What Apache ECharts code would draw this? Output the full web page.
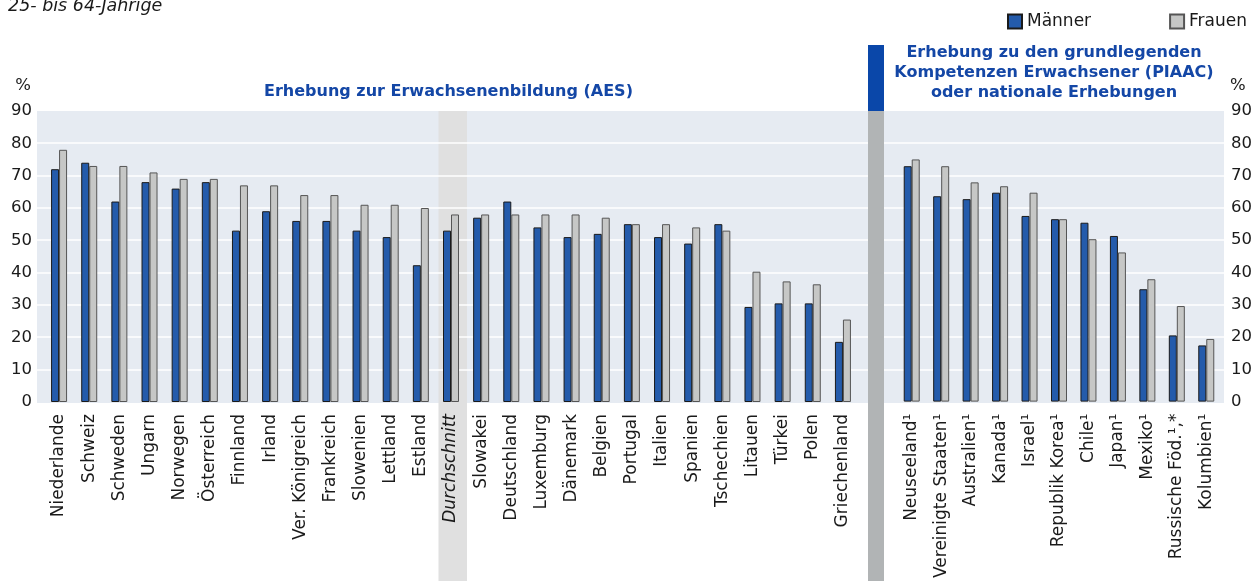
<!DOCTYPE html>
<html>
<head>
<meta charset="utf-8">
<script src="https://cdn.jsdelivr.net/npm/echarts@6/dist/echarts.min.js"></script>
<style>
html,body{margin:0;padding:0;background:#fff;}
#chart{width:1256px;height:581px;}
</style>
</head>
<body>
<div id="chart"></div>
<script>
// ---- Data ----
const categoriesAES = ['Niederlande','Schweiz','Schweden','Ungarn','Norwegen','Österreich','Finnland','Irland','Ver. Königreich','Frankreich','Slowenien','Lettland','Estland','Durchschnitt','Slowakei','Deutschland','Luxemburg','Dänemark','Belgien','Portugal','Italien','Spanien','Tschechien','Litauen','Türkei','Polen','Griechenland'];
const maennerAES = [72,74,62,68,66,68,53,59,56,56,53,51,42.3,53,57,62,54,51,52,55,51,49,55,29.4,30.5,30.5,18.6];
const frauenAES  = [78,73,73,71,69,69,67,67,64,64,61,61,60,58,58,58,58,58,57,55,55,54,53,40.3,37.3,36.4,25.5];

const categoriesPIAAC = ['Neuseeland¹','Vereinigte Staaten¹','Australien¹','Kanada¹','Israel¹','Republik Korea¹','Chile¹','Japan¹','Mexiko¹','Russische Föd.¹,*','Kolumbien¹'];
const maennerPIAAC = [72.9,63.6,62.7,64.7,57.5,56.5,55.4,51.3,34.8,20.5,17.4];
const frauenPIAAC  = [75,72.9,67.9,66.7,64.7,56.5,50.3,46.2,37.9,29.6,19.4];

const yTicks = [0,10,20,30,40,50,60,70,80,90];

const seriesNames = ['Männer','Frauen'];
const titleAES = 'Erhebung zur Erwachsenenbildung (AES)';
const titlePIAAC = 'Erhebung zu den grundlegenden\nKompetenzen Erwachsener (PIAAC)\noder nationale Erhebungen';
const subtitle = '25- bis 64-Jährige';
const highlightCategory = 'Durchschnitt';

// ---- Style / layout ----
const FONT = 'DejaVu Sans';
const W = 1256, H = 581;
const PLOT_TOP = 111, PLOT_BOTTOM = 402;
const BG0 = {left:37, right:868};
const BG1 = {left:884, right:1224};
const G0 = {left:44, right:858};
const G1 = {left:897, right:1221};
const BLUE = '#245bab', GRAY = '#c6c7c6', BG = '#e6ebf2', TITLE_BLUE = '#1447a6';
const TXT = '#1a1a1a';

const chart = echarts.init(document.getElementById('chart'), null, {renderer:'canvas'});

const xLabel = {
  rotate: 90, fontFamily: FONT, fontSize: 17, color: TXT, margin: 12, interval: 0,
  formatter: v => v === highlightCategory ? '{i|' + v + '}' : v,
  rich: { i: { fontStyle: 'italic', fontFamily: FONT, fontSize: 17, color: TXT } }
};
const yCommon = {
  type: 'value', min: yTicks[0], max: yTicks[yTicks.length-1], interval: yTicks[1]-yTicks[0],
  axisLine:{show:false}, axisTick:{show:false}, splitLine:{show:false}
};

const barBase = (name, data, xi, color, border) => ({
  name, type:'bar', xAxisIndex:xi, yAxisIndex:xi, data,
  barWidth: 8, barGap: '0%',
  itemStyle:{color, borderColor:border, borderWidth:1},
  emphasis:{disabled:true}, z:3
});

const option = {
  animation:false,
  backgroundColor:'#ffffff',
  textStyle:{fontFamily:FONT},
  legend:{
    left: 1002, top: 8, itemWidth:14, itemHeight:14, itemGap: 78,
    data: seriesNames,
    textStyle:{fontFamily:FONT, fontSize:17, color:TXT},
    icon:'rect'
  },
  grid:[
    {left:G0.left, right:W-G0.right, top:PLOT_TOP, bottom:H-PLOT_BOTTOM},
    {left:G1.left, right:W-G1.right, top:PLOT_TOP, bottom:H-PLOT_BOTTOM}
  ],
  xAxis:[
    {type:'category', gridIndex:0, data:categoriesAES, axisLine:{show:false}, axisTick:{show:false}, axisLabel:xLabel},
    {type:'category', gridIndex:1, data:categoriesPIAAC, axisLine:{show:false}, axisTick:{show:false}, axisLabel:xLabel}
  ],
  yAxis:[
    Object.assign({gridIndex:0, position:'left', axisLabel:{fontFamily:FONT, fontSize:16.5, color:TXT, margin:G0.left-32}}, yCommon),
    Object.assign({gridIndex:1, position:'right', axisLabel:{fontFamily:FONT, fontSize:16.5, color:TXT, margin:1231-G1.right}}, yCommon)
  ],
  series:[
    barBase(seriesNames[0], maennerAES, 0, BLUE, '#1a1a1a'),
    barBase(seriesNames[1], frauenAES, 0, GRAY, '#555555'),
    barBase(seriesNames[0], maennerPIAAC, 1, BLUE, '#1a1a1a'),
    barBase(seriesNames[1], frauenPIAAC, 1, GRAY, '#555555')
  ]
};
chart.setOption(option);

const cx = chart.convertToPixel({xAxisIndex:0}, highlightCategory);
const graphics = [
  {type:'rect', z:-10, silent:true, shape:{x:BG0.left, y:PLOT_TOP, width:BG0.right-BG0.left, height:PLOT_BOTTOM-PLOT_TOP+1}, style:{fill:BG}},
  {type:'rect', z:-10, silent:true, shape:{x:BG1.left, y:PLOT_TOP, width:BG1.right-BG1.left, height:PLOT_BOTTOM-PLOT_TOP+1}, style:{fill:BG}},
  {type:'rect', z:-9, silent:true, shape:{x:cx-12.5, y:PLOT_TOP, width:28.5, height:H-PLOT_TOP}, style:{fill:'#e0e0e0'}},
  {type:'rect', z:5, silent:true, shape:{x:BG0.right, y:45, width:BG1.left-BG0.right, height:PLOT_TOP-45}, style:{fill:'#0a47a9'}},
  {type:'rect', z:5, silent:true, shape:{x:BG0.right, y:PLOT_TOP, width:BG1.left-BG0.right, height:H-PLOT_TOP}, style:{fill:'#b1b4b5'}},
  {type:'text', x:8, y:6, style:{text:subtitle, font:'italic 17.5px "DejaVu Sans"', fill:TXT, verticalAlign:'middle'}},
  {type:'text', x:31, y:86, style:{text:'%', font:'16.5px "DejaVu Sans"', fill:TXT, align:'right', verticalAlign:'middle'}},
  {type:'text', x:1230, y:86, style:{text:'%', font:'16.5px "DejaVu Sans"', fill:TXT, align:'left', verticalAlign:'middle'}},
  {type:'text', x:(BG0.left+BG0.right)/2 - 4, y:92, style:{text:titleAES, font:'bold 16px "DejaVu Sans"', fill:TITLE_BLUE, align:'center', verticalAlign:'middle'}},
  {type:'text', x:(BG1.left+BG1.right)/2, y:73, style:{text:titlePIAAC, font:'bold 16px "DejaVu Sans"', fill:TITLE_BLUE, align:'center', verticalAlign:'middle', lineHeight:20}}
];
// white gridlines across the full panel backgrounds, positioned via the value axis scale
yTicks.slice(1, -1).forEach(t => {
  const y = Math.round(chart.convertToPixel({yAxisIndex:0}, t));
  graphics.push({type:'line', z:-8, silent:true, shape:{x1:BG0.left, y1:y, x2:BG0.right, y2:y}, style:{stroke:'#ffffff', lineWidth:1.5}});
  graphics.push({type:'line', z:-8, silent:true, shape:{x1:BG1.left, y1:y, x2:BG1.right, y2:y}, style:{stroke:'#ffffff', lineWidth:1.5}});
});
chart.setOption({graphic: graphics});
</script>
</body>
</html>
